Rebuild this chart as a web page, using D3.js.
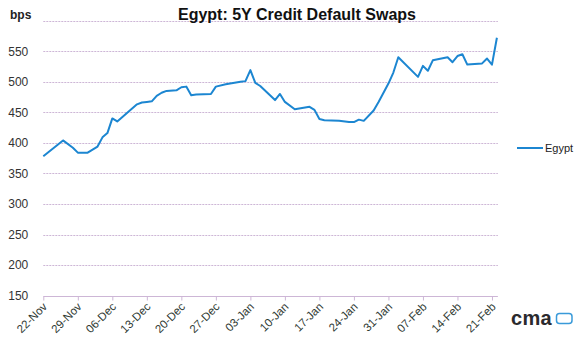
<!DOCTYPE html>
<html>
<head>
<meta charset="utf-8">
<script src="https://cdn.jsdelivr.net/npm/d3@7"></script>
<style>
  html, body { margin: 0; padding: 0; background: #fff; }
  svg { display: block; font-family: Arial, "Liberation Sans", sans-serif; }
</style>
</head>
<body>
<svg id="chart" width="577" height="354"></svg>
<script>
// ---- data ----
const dates = [
  "2010-11-22","2010-11-26","2010-11-28","2010-11-29","2010-12-01","2010-12-03","2010-12-04","2010-12-05",
  "2010-12-06","2010-12-07","2010-12-11","2010-12-12","2010-12-13","2010-12-14","2010-12-15","2010-12-16",
  "2010-12-17","2010-12-19","2010-12-20","2010-12-21","2010-12-22","2010-12-23","2010-12-26","2010-12-27",
  "2010-12-29","2011-01-01","2011-01-02","2011-01-03","2011-01-04","2011-01-05","2011-01-08","2011-01-09",
  "2011-01-10","2011-01-12","2011-01-15","2011-01-16","2011-01-17","2011-01-18","2011-01-21","2011-01-23",
  "2011-01-24","2011-01-25","2011-01-26","2011-01-28","2011-01-29","2011-01-31","2011-02-01","2011-02-02",
  "2011-02-06","2011-02-07","2011-02-08","2011-02-09","2011-02-12","2011-02-13","2011-02-14","2011-02-15",
  "2011-02-16","2011-02-19","2011-02-20","2011-02-21","2011-02-22"
];
const egypt = [
  378, 404, 392, 384, 384, 394, 409, 416,
  440, 435, 463, 466, 467, 468, 477, 482,
  485, 486, 491, 492, 478, 479, 480, 492,
  496, 500, 501, 519, 498, 493, 470, 480,
  467, 455, 459, 454, 439, 437, 436, 434,
  434, 438, 436, 453, 467, 497, 515, 540,
  508, 526, 518, 535, 540, 532, 542, 545,
  528, 530, 538, 528, 572
];
const tickDates = ["2010-11-22","2010-11-29","2010-12-06","2010-12-13","2010-12-20","2010-12-27",
  "2011-01-03","2011-01-10","2011-01-17","2011-01-24","2011-01-31","2011-02-07","2011-02-14","2011-02-21"];
const yTicks = [150, 200, 250, 300, 350, 400, 450, 500, 550, 600];
const seriesName = "Egypt";
const title = "Egypt: 5Y Credit Default Swaps";
const unitLabel = "bps";

// ---- chart ----
(function () {
const parse = d3.utcParse("%Y-%m-%d");
const fmt = d3.utcFormat("%d-%b");
const svg = d3.select("#chart");
const pLeft = 43.3, pRight = 496.9, pTop = 20.6, pBottom = 295.7;

const x = d3.scaleUtc().domain([parse("2010-11-22"), parse("2011-02-22")]).range([pLeft, pRight]);
const y = d3.scaleLinear().domain([150, 600]).range([pBottom, pTop]);

const gridColor = "#cdb6d6";

// gridlines
svg.append("g").selectAll("line").data(yTicks.filter(v => v !== 150)).join("line")
  .attr("x1", pLeft).attr("x2", pRight + 1)
  .attr("y1", d => Math.round(y(d)) + 0.5).attr("y2", d => Math.round(y(d)) + 0.5)
  .attr("stroke", gridColor).attr("stroke-width", 1).attr("stroke-dasharray", "2,1");

// y labels (600 unlabeled)
const yAxis = d3.axisLeft(y).tickValues(yTicks.filter(v => v !== 600)).tickSize(0).tickPadding(0);
const gy = svg.append("g").attr("transform", `translate(${pLeft - 15},0)`).call(yAxis);
gy.select(".domain").remove();
gy.selectAll("text").attr("font-size", 12).attr("fill", "#333").attr("font-family", "Arial, 'Liberation Sans', sans-serif");

// x axis
const xAxis = d3.axisBottom(x).tickValues(tickDates.map(parse)).tickFormat(fmt).tickSize(4).tickSizeOuter(0);
const gx = svg.append("g").attr("transform", `translate(0,${Math.round(pBottom) + 0.5})`).call(xAxis);
gx.select(".domain").attr("stroke", gridColor).attr("d", `M${pLeft},0H${pRight + 1}`);
gx.selectAll(".tick line").attr("stroke", gridColor);
gx.selectAll("text")
  .attr("font-size", 11.5).attr("fill", "#2f3a33").attr("font-family", "Arial, 'Liberation Sans', sans-serif")
  .attr("text-anchor", "end").attr("dy", null).attr("y", 0)
  .attr("transform", "translate(4,11) rotate(-45)");

// line
const line = d3.line().x((d, i) => x(parse(dates[i]))).y(d => y(d));
svg.append("path").datum(egypt)
  .attr("d", line).attr("fill", "none")
  .attr("stroke", "#1c86d1").attr("stroke-width", 2).attr("stroke-linejoin", "round");

// title & unit
svg.append("text").attr("x", 297).attr("y", 20).attr("text-anchor", "middle")
  .attr("font-size", 16).attr("font-weight", "bold").attr("fill", "#111").text(title);
svg.append("text").attr("x", 10).attr("y", 19)
  .attr("font-size", 12).attr("font-weight", "bold").attr("fill", "#222").text(unitLabel);

// legend
svg.append("line").attr("x1", 517).attr("x2", 543).attr("y1", 148).attr("y2", 148)
  .attr("stroke", "#1c86d1").attr("stroke-width", 2);
svg.append("text").attr("x", 545).attr("y", 152).attr("font-size", 11).attr("fill", "#222").text(seriesName);

// logo
svg.append("text").attr("x", 511).attr("y", 325).attr("font-size", 20).attr("font-weight", "bold")
  .attr("fill", "#2a2a2e").attr("letter-spacing", "0.3").text("cma");
svg.append("rect").attr("x", 556.5).attr("y", 313.5).attr("width", 15.5).attr("height", 10).attr("rx", 3)
  .attr("fill", "none").attr("stroke", "#3a9ad9").attr("stroke-width", 1.5);
})();
</script>
</body>
</html>
